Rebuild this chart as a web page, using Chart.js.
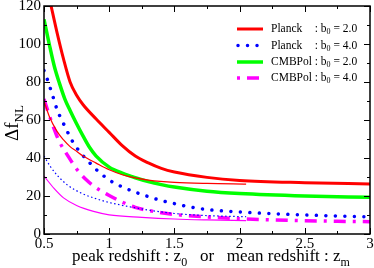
<!DOCTYPE html>
<html>
<head>
<meta charset="utf-8">
<script src="https://cdn.jsdelivr.net/npm/chart.js@4.4.0/dist/chart.umd.min.js"></script>
<style>
  html, body { margin: 0; padding: 0; background: #fff; }
</style>
</head>
<body>
<canvas id="c" width="374" height="268"></canvas>
<script>
// values (peak redshift z0, thick curves)
var zPlanckB2 = [0.548, 0.6, 0.65, 0.7, 0.75, 0.8, 0.9, 1.0, 1.1, 1.2, 1.3, 1.4, 1.5, 1.75, 2.0, 2.5, 3.0];
var dfPlanckB2 = [122, 106, 92, 80, 73, 68, 60.5, 53.5, 46.5, 41, 37.4, 34.5, 32.6, 29.8, 28.2, 27, 26.3];

var zPlanckB4 = [0.5, 0.53, 0.556, 0.577, 0.6, 0.63, 0.665, 0.7, 0.75, 0.8, 0.85, 0.9, 1.0, 1.1, 1.2, 1.3, 1.4, 1.5, 1.6, 1.75, 2.0, 2.25, 2.5, 2.75, 3.0];
var dfPlanckB4 = [86, 80.5, 75, 70.5, 65.5, 60.8, 56, 51, 45.5, 41.2, 37.5, 34, 28.4, 24.8, 22, 19.7, 17.6, 16, 14.5, 12.9, 11.6, 10.7, 10, 9.5, 9.0];

var zCmbpolB2 = [0.5, 0.54, 0.58, 0.62, 0.66, 0.7, 0.75, 0.8, 0.85, 0.9, 1.0, 1.1, 1.2, 1.3, 1.4, 1.5, 1.75, 2.0, 2.5, 3.0];
var dfCmbpolB2 = [113, 100, 88, 79, 71, 65, 58, 51.5, 45.5, 41, 35.2, 32, 29.6, 27.6, 26, 24.7, 22.5, 21.3, 20, 19.3];

var zCmbpolB4 = [0.5, 0.54, 0.577, 0.615, 0.68, 0.75, 0.82, 0.9, 1.0, 1.1, 1.2, 1.3, 1.4, 1.5, 1.75, 2.0, 2.25, 2.5, 2.75, 3.0];
var dfCmbpolB4 = [71, 62.5, 55.5, 49, 41.5, 34.2, 28.8, 24.3, 20.3, 16.8, 14, 12.4, 11.2, 10.3, 9, 8, 7.4, 7, 6.7, 6.5];

// thin curves (mean redshift zm)
var zMeanPlanckB2 = [0.5, 0.54, 0.6, 0.65, 0.7, 0.75, 0.8, 0.9, 1.0, 1.1, 1.2, 1.3, 1.5, 1.75, 2.05];
var dfMeanPlanckB2 = [70, 62, 54, 49.5, 46, 43.5, 41, 37.3, 33.8, 31.2, 29.5, 28.4, 27.2, 26.6, 26.3];

var zMeanPlanckB4 = [0.5, 0.55, 0.6, 0.68, 0.78, 0.88, 1.0, 1.1, 1.2, 1.3, 1.5, 1.75, 2.05];
var dfMeanPlanckB4 = [41, 35.4, 31, 25.8, 21.7, 19, 16.6, 15.1, 13.8, 12.6, 10.8, 9.7, 9.1];

var zMeanCmbpolB4 = [0.5, 0.577, 0.65, 0.75, 0.88, 1.0, 1.25, 1.5, 1.75, 2.05];
var dfMeanCmbpolB4 = [30.5, 24, 19, 15, 11.9, 10.1, 8.8, 7.9, 7.4, 7];

var xTicks = [0.5, 1, 1.5, 2, 2.5, 3];
var yTicks = [0, 20, 40, 60, 80, 100, 120];

var serif = "'Liberation Serif', 'DejaVu Serif', serif";
var legendSize = 11.5;

function pts(zs, vs) {
  return zs.map(function (z, i) { return { x: z, y: vs[i] }; });
}

function line(zs, vs, color, width, dash, cap, name) {
  return {
    data: pts(zs, vs),
    borderColor: color,
    borderWidth: width,
    borderDash: dash,
    borderCapStyle: cap,
    pointRadius: 0,
    fill: false,
    cubicInterpolationMode: 'monotone',
    clip: 0,
    legendName: name
  };
}

// draw a string with subscript parts
function richWidth(ctx, parts, size) {
  var w = 0;
  parts.forEach(function (p) {
    ctx.font = (p.sub ? Math.round(size * 0.7) : size) + 'px ' + serif;
    w += ctx.measureText(p.t).width;
  });
  return w;
}
function drawRich(ctx, parts, x, y, size) {
  parts.forEach(function (p) {
    ctx.font = (p.sub ? Math.round(size * 0.7) : size) + 'px ' + serif;
    ctx.fillText(p.t, x, p.sub ? y + size * 0.28 : y);
    x += ctx.measureText(p.t).width;
  });
  return x;
}

var framePlugin = {
  id: 'frame',
  afterDatasetsDraw: function (chart) {
    var ctx = chart.ctx, a = chart.chartArea;
    var xs = chart.scales.x, ys = chart.scales.y;
    ctx.save();
    ctx.strokeStyle = '#000';
    ctx.lineWidth = 1;
    ctx.beginPath();
    var v, p, len;
    for (v = 0.5; v <= 3.001; v += 0.25) {
      p = Math.round(xs.getPixelForValue(v)) + 0.5;
      len = (Math.abs(v * 2 - Math.round(v * 2)) < 0.01) ? 6 : 3;
      ctx.moveTo(p, a.bottom); ctx.lineTo(p, a.bottom - len);
      ctx.moveTo(p, a.top); ctx.lineTo(p, a.top + len);
    }
    for (v = 0; v <= 120; v += 10) {
      p = Math.round(ys.getPixelForValue(v)) + 0.5;
      len = (v % 20 === 0) ? 6 : 3;
      ctx.moveTo(a.left, p); ctx.lineTo(a.left + len, p);
      ctx.moveTo(a.right, p); ctx.lineTo(a.right - len, p);
    }
    ctx.stroke();
    ctx.lineWidth = 1.5;
    ctx.strokeRect(a.left, a.top, a.right - a.left, a.bottom - a.top);

    // legend
    var rowY = [29, 45.5, 62, 78];
    var k = 0;
    ctx.textBaseline = 'middle';
    ctx.fillStyle = '#000';
    ctx.font = legendSize + 'px ' + serif;
    var colonX = 271 + ctx.measureText('CMBPol ').width;
    chart.data.datasets.forEach(function (ds) {
      if (!ds.legendName) return;
      var y = rowY[k++];
      ctx.save();
      ctx.strokeStyle = ds.borderColor;
      ctx.lineWidth = ds.borderWidth;
      ctx.lineCap = ds.borderCapStyle;
      ctx.setLineDash(ds.borderDash);
      ctx.lineDashOffset = ds.legendOffset || 0;
      ctx.beginPath();
      ctx.moveTo(ds.legendFrom || 237, y);
      ctx.lineTo(263, y);
      ctx.stroke();
      ctx.restore();
      ctx.font = legendSize + 'px ' + serif;
      ctx.fillText(ds.legendName[0], 271, y);
      drawRich(ctx, [{ t: ': b' }, { t: '0', sub: true }, { t: ' = ' + ds.legendName[1] }], colonX, y, legendSize);
    });

    // x axis title
    ctx.textBaseline = 'alphabetic';
    var xt = [{ t: 'peak redshift : z' }, { t: '0', sub: true }, { t: '   or   mean redshift : z' }, { t: 'm', sub: true }];
    var w = richWidth(ctx, xt, 17);
    drawRich(ctx, xt, (a.left + a.right) / 2 - w / 2 + 4, 261, 17);

    // y axis title
    ctx.translate(18, (a.top + a.bottom) / 2 + 3);
    ctx.rotate(-Math.PI / 2);
    var yt = [{ t: '\u0394f' }, { t: 'NL', sub: true }];
    w = richWidth(ctx, yt, 19);
    drawRich(ctx, yt, -w / 2, 0, 19);
    ctx.restore();
  }
};

var planckB2 = line(zPlanckB2, dfPlanckB2, '#ff0000', 3, [], 'butt', ['Planck', '2.0']);
var planckB4 = line(zPlanckB4, dfPlanckB4, '#0000ff', 3.5, [0.01, 9.5], 'round', ['Planck', '4.0']);
planckB4.legendFrom = 238;
var cmbpolB2 = line(zCmbpolB2, dfCmbpolB2, '#00ff00', 3.5, [], 'butt', ['CMBPol', '2.0']);
var cmbpolB4 = line(zCmbpolB4, dfCmbpolB4, '#ff00ff', 3.5, [12, 7, 3, 7], 'butt', ['CMBPol', '4.0']);
cmbpolB4.legendOffset = 19;

new Chart(document.getElementById('c'), {
  type: 'line',
  data: {
    datasets: [
      line(zMeanPlanckB2, dfMeanPlanckB2, '#ff0000', 1.2, [], 'butt', null),
      line(zMeanPlanckB4, dfMeanPlanckB4, '#0000ff', 1.2, [1.5, 2.5], 'butt', null),
      line(zMeanCmbpolB4, dfMeanCmbpolB4, '#ff00ff', 1.2, [], 'butt', null),
      planckB2, planckB4, cmbpolB2, cmbpolB4
    ]
  },
  options: {
    responsive: false,
    animation: false,
    devicePixelRatio: 1,
    layout: { padding: { top: 6, right: 4, left: 0, bottom: 0 } },
    plugins: { legend: { display: false }, tooltip: { enabled: false } },
    scales: {
      x: {
        type: 'linear', min: 0.5, max: 3,
        afterBuildTicks: function (s) { s.ticks = xTicks.map(function (v) { return { value: v }; }); },
        afterFit: function (s) { s.height = 34; s.paddingLeft = 0; s.paddingRight = 0; },
        ticks: {
          font: { family: serif, size: 15 }, color: '#000', padding: 1, maxRotation: 0, autoSkip: false,
          callback: function (v) { return String(v); }
        },
        grid: { display: false, drawTicks: false },
        border: { display: false }
      },
      y: {
        min: 0, max: 120,
        afterBuildTicks: function (s) { s.ticks = yTicks.map(function (v) { return { value: v }; }); },
        afterFit: function (s) { s.width = 44; s.paddingTop = 0; s.paddingBottom = 0; },
        ticks: {
          font: { family: serif, size: 15 }, color: '#000', padding: 3,
          callback: function (v) { return String(v); }
        },
        grid: { display: false, drawTicks: false },
        border: { display: false }
      }
    }
  },
  plugins: [framePlugin]
});
</script>
</body>
</html>
